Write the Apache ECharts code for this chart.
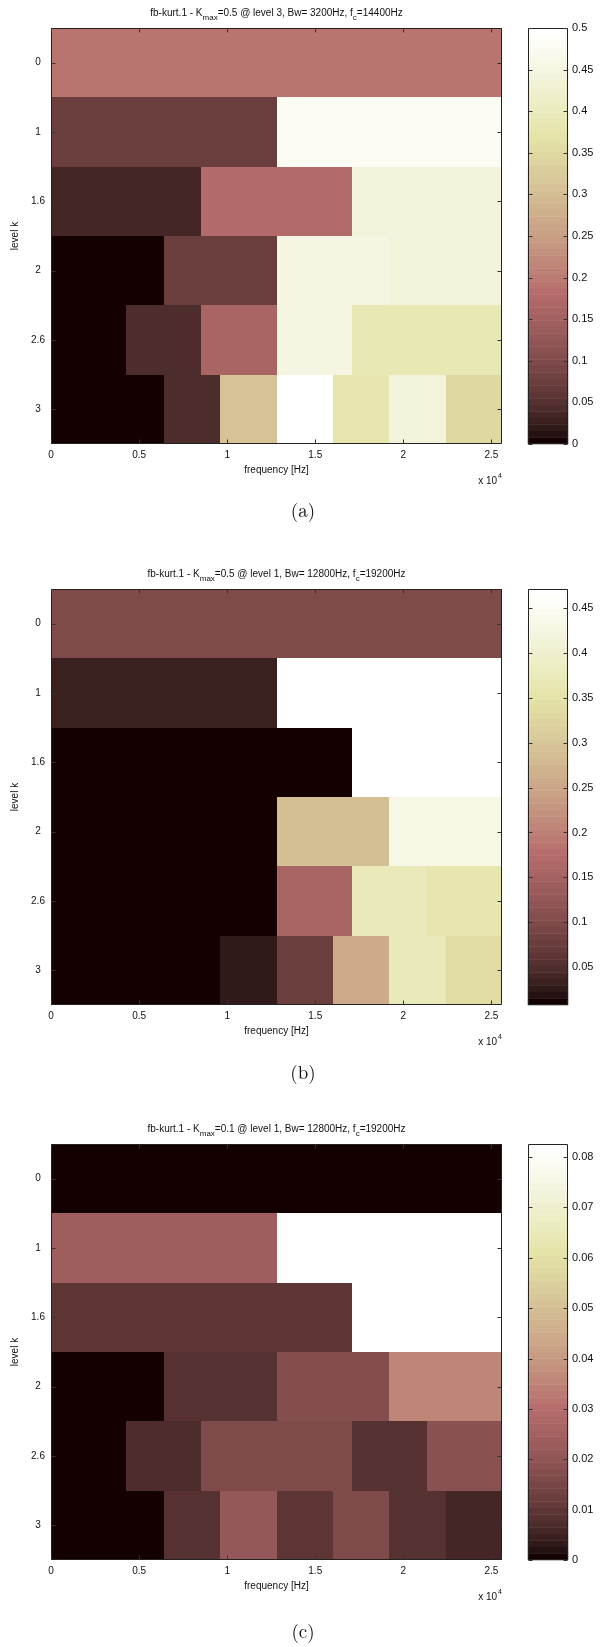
<!DOCTYPE html>
<html>
<head>
	<meta charset="UTF-8">
	<title>kurtogram</title>
	<style>
		html, body { margin: 0; padding: 0; background: #fff; }
		#main { width: 606px; height: 1647px; }
	</style>
</head>
<body>
	<div id="main"></div>
<script src="https://cdn.jsdelivr.net/npm/echarts@6/dist/echarts.min.js"></script>
<script>
// frequency axis (Hz) and levels
var freqMax = 25600;
var levelLabels = ['0', '1', '1.6', '2', '2.6', '3'];
var xTickValues = [0, 5000, 10000, 15000, 20000, 25000];
var xTickLabels = ['0', '0.5', '1', '1.5', '2', '2.5'];

// kurtosis per level, one row per level (1,2,3,4,6,8 bands)
var kurtA = [
    [0.19],
    [0.078, 0.48],
    [0.035, 0.175, 0.44],
    [0.0, 0.072, 0.45, 0.44],
    [0.005, 0.04, 0.16, 0.45, 0.39, 0.39],
    [0.0, 0.0, 0.045, 0.31, 0.5, 0.38, 0.44, 0.35]
];
var kurtB = [
    [0.095],
    [0.03, 0.471],
    [0.008, 0.01, 0.47],
    [0.008, 0.008, 0.29, 0.43],
    [0.008, 0.008, 0.008, 0.155, 0.37, 0.36],
    [0.008, 0.008, 0.008, 0.028, 0.075, 0.26, 0.37, 0.34]
];
var kurtC = [
    [0.0],
    [0.024, 0.0826],
    [0.01, 0.01, 0.0826],
    [0.0, 0.009, 0.017, 0.036],
    [0.0, 0.007, 0.016, 0.016, 0.008, 0.019],
    [0.0, 0.0, 0.008, 0.021, 0.01, 0.016, 0.009, 0.006]
];

// colour bar ranges and ticks
var cbRangeA = [0, 0.5];
var cbRangeB = [0.008, 0.471];
var cbRangeC = [0, 0.0826];
var cbTicksA = [0, 0.05, 0.1, 0.15, 0.2, 0.25, 0.3, 0.35, 0.4, 0.45, 0.5];
var cbTicksB = [0.05, 0.1, 0.15, 0.2, 0.25, 0.3, 0.35, 0.4, 0.45];
var cbTicksC = [0, 0.01, 0.02, 0.03, 0.04, 0.05, 0.06, 0.07, 0.08];

var titleA = 'fb-kurt.1 - K{sub|max}=0.5 @ level 3, Bw= 3200Hz, f{sub|c}=14400Hz';
var titleB = 'fb-kurt.1 - K{sub|max}=0.5 @ level 1, Bw= 12800Hz, f{sub|c}=19200Hz';
var titleC = 'fb-kurt.1 - K{sub|max}=0.1 @ level 1, Bw= 12800Hz, f{sub|c}=19200Hz';
var captions = ['(a)', '(b)', '(c)'];

// matlab "pink" colormap, 64 entries (slightly darkened like the printed figure)
var NC = 64;
var pinkMap = (function () {
    var n = Math.floor(3 / 8 * NC), out = [];
    for (var i = 0; i < NC; i++) {
        var g = i / (NC - 1);
        var hr = i < n ? (i + 1) / n : 1;
        var hg = i < n ? 0 : (i < 2 * n ? (i - n + 1) / n : 1);
        var hb = i < 2 * n ? 0 : (i - 2 * n + 1) / (NC - 2 * n);
        var c = [hr, hg, hb].map(function (h) {
            return Math.round(255 * Math.pow(Math.sqrt((2 * g + h) / 3), 1.2));
        });
        out.push('rgb(' + c.join(',') + ')');
    }
    return out;
})();

function colorFor(v, range) {
    var k = Math.floor((v - range[0]) / (range[1] - range[0]) * NC);
    return pinkMap[Math.max(0, Math.min(NC - 1, k))];
}

var FONT = '"Liberation Sans", Arial, sans-serif';
var panels = [
    { kurt: kurtA, range: cbRangeA, ticks: cbTicksA, title: titleA, top: 28, cap: 511 },
    { kurt: kurtB, range: cbRangeB, ticks: cbTicksB, title: titleB, top: 589, cap: 1073 },
    { kurt: kurtC, range: cbRangeC, ticks: cbTicksC, title: titleC, top: 1144, cap: 1632 }
];
var plotLeft = 51, plotW = 451, plotH = 416, cbLeft = 528, cbW = 40;
var FRAME = '#222', TICK = '#333', TL = 4;

var grid = [], xAxis = [], yAxis = [], series = [], graphic = [];
var noLine = { show: false, onZero: false };
var noTick = { show: false };

// box with inward ticks, positions taken from the grid's own scales
function frameSeries(xi, tickFn) {
    return {
        type: 'custom', xAxisIndex: xi, yAxisIndex: xi, z: 10, silent: true,
        data: [[0]],
        renderItem: function (params, api) {
            var cs = params.coordSys;
            var x0 = Math.round(cs.x) + 0.5, y0 = Math.round(cs.y) + 0.5;
            var x1 = Math.round(cs.x + cs.width) - 0.5, y1 = Math.round(cs.y + cs.height) - 0.5;
            var kids = [{
                type: 'rect', shape: { x: x0, y: y0, width: x1 - x0, height: y1 - y0 },
                style: { fill: null, stroke: FRAME, lineWidth: 1 }
            }];
            tickFn(api, x0, y0, x1, y1).forEach(function (s) {
                kids.push({ type: 'line', shape: s, style: { stroke: TICK, lineWidth: 1 } });
            });
            return { type: 'group', children: kids };
        }
    };
}

panels.forEach(function (p, idx) {
    grid.push({ left: plotLeft, top: p.top, width: plotW, height: plotH });
    grid.push({ left: cbLeft, top: p.top, width: cbW, height: plotH });
    var g0 = 2 * idx, ax = 2 * idx;

    xAxis.push({
        type: 'value', gridIndex: g0, min: 0, max: freqMax, position: 'bottom',
        name: 'frequency [Hz]', nameLocation: 'middle', nameGap: 21,
        nameTextStyle: { fontFamily: FONT, fontSize: 10, color: '#111' },
        splitLine: { show: false }, axisLine: noLine, axisTick: noTick,
        axisLabel: {
            margin: 6, fontFamily: FONT, fontSize: 10, color: '#111', customValues: xTickValues,
            formatter: function (v) { return xTickLabels[xTickValues.indexOf(v)]; }
        }
    });
    xAxis.push({
        type: 'value', gridIndex: g0 + 1, min: 0, max: 1,
        splitLine: { show: false }, axisLine: noLine, axisTick: noTick, axisLabel: { show: false }
    });
    yAxis.push({
        type: 'category', gridIndex: g0, data: levelLabels, inverse: true, position: 'left',
        name: 'level k', nameLocation: 'middle', nameGap: 23, nameRotate: 90,
        nameTextStyle: { fontFamily: FONT, fontSize: 10, color: '#111' },
        axisLine: noLine, axisTick: noTick,
        axisLabel: { margin: 13, align: 'center', fontFamily: FONT, fontSize: 10, color: '#111' }
    });
    yAxis.push({
        type: 'value', gridIndex: g0 + 1, min: p.range[0], max: p.range[1], position: 'right',
        splitLine: { show: false }, axisLine: noLine, axisTick: noTick,
        axisLabel: {
            margin: 4, fontFamily: FONT, fontSize: 11, color: '#111', customValues: p.ticks,
            formatter: function (v) { return String(+v.toFixed(4)); }
        }
    });

    // kurtogram cells
    var cells = [];
    p.kurt.forEach(function (row, lev) {
        var n = row.length;
        row.forEach(function (v, k) {
            cells.push([k * freqMax / n, (k + 1) * freqMax / n, lev, v]);
        });
    });
    var range = p.range;
    series.push({
        type: 'custom', xAxisIndex: ax, yAxisIndex: ax, z: 1, silent: true,
        data: cells,
        renderItem: function (params, api) {
            var lev = api.value(2);
            var p0 = api.coord([api.value(0), lev]);
            var p1 = api.coord([api.value(1), lev]);
            var h = api.size([0, 1])[1];
            var x0 = Math.round(p0[0]), x1 = Math.round(p1[0]);
            var y0 = Math.round(p0[1] - h / 2), y1 = Math.round(p0[1] + h / 2);
            return {
                type: 'rect',
                shape: { x: x0, y: y0, width: x1 - x0, height: y1 - y0 },
                style: { fill: colorFor(api.value(3), range) }
            };
        }
    });

    // colour bar bands
    var bands = [];
    var step = (range[1] - range[0]) / NC;
    for (var j = 0; j < NC; j++) {
        bands.push([range[0] + j * step, range[0] + (j + 1) * step, j]);
    }
    series.push({
        type: 'custom', xAxisIndex: ax + 1, yAxisIndex: ax + 1, z: 1, silent: true,
        data: bands,
        renderItem: function (params, api) {
            var a = api.coord([0, api.value(0)]);
            var b = api.coord([1, api.value(1)]);
            var col = pinkMap[api.value(2)];
            return {
                type: 'rect',
                shape: { x: a[0], y: b[1], width: b[0] - a[0], height: a[1] - b[1] },
                style: { fill: col, stroke: col, lineWidth: 0.5 }
            };
        }
    });

    // frames + ticks
    series.push(frameSeries(ax, function (api, x0, y0, x1, y1) {
        var s = [];
        xTickValues.forEach(function (v) {
            var x = Math.round(api.coord([v, 0])[0]) + 0.5;
            s.push({ x1: x, y1: y1, x2: x, y2: y1 - TL });
            s.push({ x1: x, y1: y0, x2: x, y2: y0 + TL });
        });
        levelLabels.forEach(function (l, i) {
            var y = Math.round(api.coord([0, i])[1]) + 0.5;
            s.push({ x1: x0, y1: y, x2: x0 + TL, y2: y });
            s.push({ x1: x1, y1: y, x2: x1 - TL, y2: y });
        });
        return s;
    }));
    var cbTicks = p.ticks;
    series.push(frameSeries(ax + 1, function (api, x0, y0, x1, y1) {
        var s = [];
        cbTicks.forEach(function (v) {
            var y = Math.round(api.coord([0, v])[1]) + 0.5;
            s.push({ x1: x0, y1: y, x2: x0 + TL, y2: y });
            s.push({ x1: x1, y1: y, x2: x1 - TL, y2: y });
        });
        return s;
    }));

    graphic.push({
        type: 'text', x: plotLeft + plotW / 2, y: p.top - 15,
        style: {
            text: p.title, align: 'center', verticalAlign: 'middle',
            fontFamily: FONT, fontSize: 10, fill: '#111',
            rich: { sub: { fontFamily: FONT, fontSize: 8, fill: '#111', padding: [9, 0, 0, 0] } }
        }
    });
    graphic.push({
        type: 'text', x: plotLeft + plotW, y: p.top + plotH + 37,
        style: {
            text: 'x 10{sup|4}', align: 'right', verticalAlign: 'middle',
            fontFamily: FONT, fontSize: 10, fill: '#111',
            rich: { sup: { fontFamily: FONT, fontSize: 7, fill: '#111', padding: [0, 0, 9, 1] } }
        }
    });
    graphic.push({
        type: 'text', x: 303, y: p.cap,
        style: {
            text: captions[idx], align: 'center', verticalAlign: 'middle',
            fontFamily: '"Latin Modern Roman", "DejaVu Serif", serif', fontSize: 19, fill: '#111'
        }
    });
});

var chart = echarts.init(document.getElementById('main'));
chart.setOption({
    animation: false,
    backgroundColor: '#fff',
    grid: grid,
    xAxis: xAxis,
    yAxis: yAxis,
    series: series,
    graphic: graphic
});
</script>
</body>
</html>
